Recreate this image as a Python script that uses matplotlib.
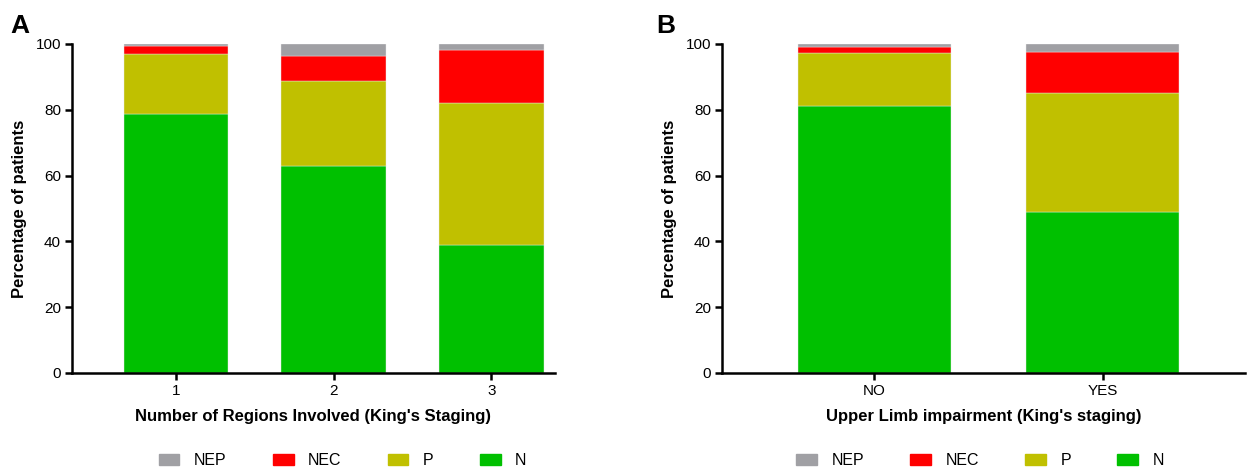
import numpy as np
import matplotlib.pyplot as plt
from matplotlib.patches import Patch

plt.rcParams['font.family'] = ['Liberation Sans', 'DejaVu Sans']

# Panel A: number of regions involved
regions = ['1', '2', '3']
a_n = [78.8, 63.0, 39.0]
a_p = [18.2, 25.7, 43.2]
a_nec = [2.3, 7.8, 16.1]
a_nep = [0.7, 3.5, 1.7]

# Panel B: upper limb impairment
limb = ['NO', 'YES']
b_n = [81.3, 48.9]
b_p = [15.9, 36.3]
b_nec = [2.0, 12.4]
b_nep = [0.8, 2.4]

series_names = ['N', 'P', 'NEC', 'NEP']
colors = {'N': '#00C000', 'P': '#C0C000', 'NEC': '#FF0000', 'NEP': '#A0A0A4'}


def stacked(ax, cats, vals, width, xlim, xlabel):
    x = np.arange(1, len(cats) + 1)
    bottom = np.zeros(len(cats))
    for name, v in zip(series_names, vals):
        ax.bar(x, v, width, bottom=bottom, color=colors[name],
               edgecolor='#e8e8e8', linewidth=0.3)
        bottom += np.array(v)
    ax.set_xlim(*xlim)
    ax.set_ylim(0, 100)
    ax.set_yticks([0, 20, 40, 60, 80, 100])
    ax.set_xticks(x)
    ax.set_xticklabels(cats)
    for s in ['top', 'right']:
        ax.spines[s].set_visible(False)
    for s in ['left', 'bottom']:
        ax.spines[s].set_linewidth(1.8)
    ax.tick_params(width=1.8, length=5, labelsize=11, pad=3)
    ax.set_ylabel('Percentage of patients', fontsize=12, fontweight='bold', labelpad=6)
    ax.set_xlabel(xlabel, fontsize=12, fontweight='bold', labelpad=8)


fig = plt.figure(figsize=(12.5, 4.68), dpi=100)
ax1 = fig.add_axes([0.0576, 0.203, 0.386, 0.703])
ax2 = fig.add_axes([0.5776, 0.203, 0.418, 0.703])

stacked(ax1, regions, [a_n, a_p, a_nec, a_nep], 0.665, (0.34, 3.4),
        "Number of Regions Involved (King's Staging)")
stacked(ax2, limb, [b_n, b_p, b_nec, b_nep], 0.67, (0.333, 2.62),
        "Upper Limb impairment (King's staging)")

fig.text(0.008, 0.93, 'A', fontsize=19, fontweight='bold')
fig.text(0.525, 0.93, 'B', fontsize=19, fontweight='bold')

handles = [Patch(color=colors[n], label=n) for n in ['NEP', 'NEC', 'P', 'N']]
for cx in [0.274, 0.784]:
    fig.legend(handles=handles, loc='center', bbox_to_anchor=(cx, 0.016),
               ncol=4, frameon=False, fontsize=11.5, handlelength=1.3,
               handleheight=0.65, columnspacing=2.9, handletextpad=0.9)

fig.savefig('out.png', dpi=100)
